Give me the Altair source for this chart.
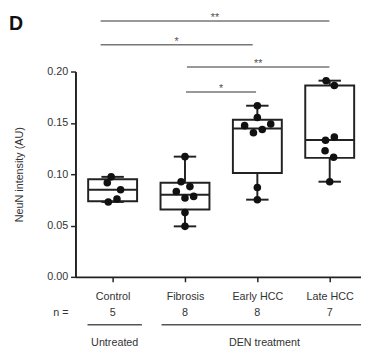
import json
import altair as alt
import pandas as pd

# ---------------- data ----------------
categories = ["Control", "Fibrosis", "Early HCC", "Late HCC"]
n_counts = [5, 8, 8, 7]

control_vals = [0.0974, 0.0917, 0.0848, 0.0759, 0.0730]
control_off = [-0.02, -0.074, 0.11, 0.06, -0.06]
fibrosis_vals = [0.1171, 0.0927, 0.0879, 0.0831, 0.0784, 0.0769, 0.0626, 0.0492]
fibrosis_off = [0.0, -0.054, 0.068, -0.12, 0.12, 0.0, 0.0, 0.0]
early_vals = [0.1667, 0.1552, 0.1473, 0.1403, 0.1435, 0.1489, 0.0870, 0.0752]
early_off = [0.0, 0.0, -0.176, -0.054, 0.068, 0.185, 0.0, 0.0]
late_vals = [0.1911, 0.1864, 0.1330, 0.1362, 0.1229, 0.1165, 0.0927]
late_off = [-0.05, 0.064, -0.058, 0.064, -0.064, 0.054, 0.0]

q1 = [0.0736, 0.0657, 0.1012, 0.1159]
median = [0.0848, 0.0800, 0.1445, 0.1333]
q3 = [0.0950, 0.0917, 0.1530, 0.1864]
whisk_lo = [0.0730, 0.0492, 0.0752, 0.0927]
whisk_hi = [0.0974, 0.1171, 0.1667, 0.1911]

sig_x1 = [-0.166, -0.166, 1.027, 1.014]
sig_x2 = [2.996, 1.936, 2.996, 1.982]
sig_y = [0.2492, 0.2260, 0.2045, 0.1800]
sig_label = ["**", "*", "**", "*"]

group_names = ["Untreated", "DEN treatment"]
group_x1 = [-0.347, 0.676]
group_x2 = [0.405, 3.52]

y_ticks = [0.0, 0.05, 0.10, 0.15, 0.20]

# ---------------- tables ----------------
vals = [control_vals, fibrosis_vals, early_vals, late_vals]
offs = [control_off, fibrosis_off, early_off, late_off]
pts = pd.DataFrame(
    [{"cat": categories[i], "x": i + o, "v": v}
     for i in range(4) for v, o in zip(vals[i], offs[i])]
)
half_box = 0.338
half_cap = 0.155
box = pd.DataFrame({
    "cat": categories,
    "i": list(range(4)),
    "xl": [i - half_box for i in range(4)],
    "xr": [i + half_box for i in range(4)],
    "cl": [i - half_cap for i in range(4)],
    "cr": [i + half_cap for i in range(4)],
    "q1": q1, "med": median, "q3": q3, "lo": whisk_lo, "hi": whisk_hi,
    "n": [str(n) for n in n_counts],
})
sig = pd.DataFrame({"x1": sig_x1, "x2": sig_x2, "y": sig_y, "lab": sig_label})
sig["xm"] = (sig["x1"] + sig["x2"]) / 2
grp = pd.DataFrame({"g": group_names, "x1": group_x1, "x2": group_x2})
grp["xm"] = (grp["x1"] + grp["x2"]) / 2

FONT = "Liberation Sans, Arial, sans-serif"
INK = "#222222"
TXT = "#333333"

xscale = alt.Scale(domain=[-0.5135, 3.4324], nice=False, zero=False)
yscale = alt.Scale(domain=[0, 0.2], nice=False, zero=True)

label_expr = json.dumps(categories) + "[datum.value]"

x_axis = alt.Axis(values=[0, 1, 2, 3], labelExpr=label_expr, title=None, grid=False,
                  domainColor=INK, domainWidth=2, tickColor=INK, tickWidth=1.5, tickSize=5,
                  labelFont=FONT, labelFontSize=11, labelColor=TXT, labelPadding=9,
                  labelOverlap=False, labelFlush=False, labelBound=False)
y_axis = alt.Axis(values=y_ticks, format=".2f", grid=False,
                  domainColor=INK, domainWidth=2, tickColor=INK, tickWidth=1.5, tickSize=5,
                  labelFont=FONT, labelFontSize=11, labelColor=TXT, labelPadding=3,
                  labelFlush=False, labelOverlap=False,
                  title="NeuN intensity (AU)", titleFont=FONT, titleFontSize=11,
                  titleFontWeight="normal", titleColor=TXT, titleX=-57, titleY=105,
                  titleAngle=270, titleAlign="center", titleBaseline="middle")

base_box = alt.Chart(box)

boxes = base_box.mark_rect(fill="white", stroke=INK, strokeWidth=2).encode(
    x=alt.X("xl:Q", scale=xscale, axis=x_axis),
    x2="xr:Q",
    y=alt.Y("q1:Q", scale=yscale, axis=y_axis),
    y2="q3:Q",
)
medians = base_box.mark_rule(color=INK, strokeWidth=2).encode(
    x=alt.X("xl:Q", scale=xscale), x2="xr:Q", y=alt.Y("med:Q", scale=yscale))
wh_up = base_box.mark_rule(color=INK, strokeWidth=2).encode(
    x=alt.X("i:Q", scale=xscale), y=alt.Y("q3:Q", scale=yscale), y2="hi:Q")
wh_dn = base_box.mark_rule(color=INK, strokeWidth=2).encode(
    x=alt.X("i:Q", scale=xscale), y=alt.Y("lo:Q", scale=yscale), y2="q1:Q")
cap_up = base_box.mark_rule(color=INK, strokeWidth=2).encode(
    x=alt.X("cl:Q", scale=xscale), x2="cr:Q", y=alt.Y("hi:Q", scale=yscale))
cap_dn = base_box.mark_rule(color=INK, strokeWidth=2).encode(
    x=alt.X("cl:Q", scale=xscale), x2="cr:Q", y=alt.Y("lo:Q", scale=yscale))

points = alt.Chart(pts).mark_circle(size=60, color="#111111", opacity=1).encode(
    x=alt.X("x:Q", scale=xscale), y=alt.Y("v:Q", scale=yscale))

sig_lines = alt.Chart(sig).mark_rule(color="#777777", strokeWidth=1.5).encode(
    x=alt.X("x1:Q", scale=xscale), x2="x2:Q", y=alt.Y("y:Q", scale=yscale))
sig_text = alt.Chart(sig).mark_text(font=FONT, fontSize=11, color="#555555",
                                    baseline="alphabetic", align="center").encode(
    x=alt.X("xm:Q", scale=xscale), y=alt.Y("y:Q", scale=yscale), text="lab:N")

n_nums = base_box.mark_text(font=FONT, fontSize=11, color=TXT, baseline="middle").encode(
    x=alt.X("i:Q", scale=xscale), y=alt.value(247), text="n:N")
n_label = alt.Chart(pd.DataFrame({"t": ["n ="]})).mark_text(
    font=FONT, fontSize=11, color=TXT, baseline="middle", align="center").encode(
    x=alt.value(-15), y=alt.value(247), text="t:N")

grp_lines = alt.Chart(grp).mark_rule(color="#555555", strokeWidth=1.5).encode(
    x=alt.X("x1:Q", scale=xscale), x2="x2:Q", y=alt.value(259))
grp_text = alt.Chart(grp).mark_text(font=FONT, fontSize=11, color=TXT, baseline="middle").encode(
    x=alt.X("xm:Q", scale=xscale), y=alt.value(278), text="g:N")

panel = alt.Chart(pd.DataFrame({"t": ["D"]})).mark_text(
    font=FONT, fontSize=20, fontWeight="bold", color="#111111",
    baseline="alphabetic", align="left").encode(
    x=alt.value(-68), y=alt.value(-42), text="t:N")

chart = alt.layer(
    boxes, wh_up, wh_dn, cap_up, cap_dn, medians, points,
    sig_lines, sig_text, n_nums, n_label, grp_lines, grp_text, panel
).properties(
    width=292, height=210,
    padding={"left": 69, "top": 61, "right": 0, "bottom": 79},
    autosize=alt.AutoSizeParams(type="none"),
    background="white",
).configure_view(strokeWidth=0)

chart.save("out.html", embed_options={"renderer": "svg", "actions": False})
